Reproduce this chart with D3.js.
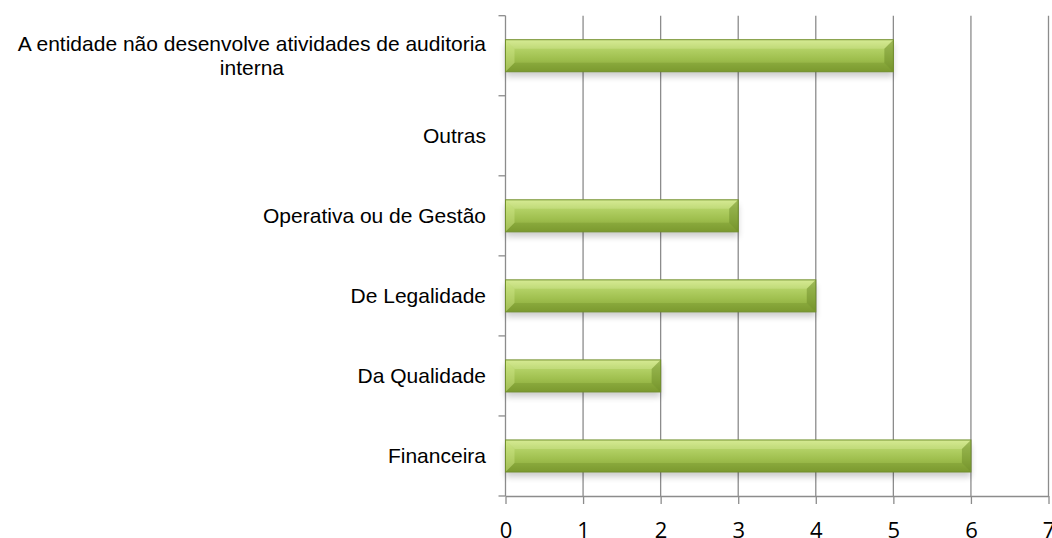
<!DOCTYPE html>
<html>
<head>
<meta charset="utf-8">
<script src="https://cdn.jsdelivr.net/npm/d3@7"></script>
<style>
  html, body { margin: 0; padding: 0; background: #ffffff; }
  svg { display: block; }
  .cat { font-family: Arial, "Liberation Sans", Helvetica, sans-serif; }
</style>
</head>
<body>
<svg id="chart" width="1052" height="538"></svg>
<script>
const categories = [
  ["A entidade não desenvolve atividades de auditoria", "interna"],
  ["Outras"],
  ["Operativa ou de Gestão"],
  ["De Legalidade"],
  ["Da Qualidade"],
  ["Financeira"]
];
const values = [5, 0, 3, 4, 2, 6];
const xTicks = [0, 1, 2, 3, 4, 5, 6, 7];

(function () {
const svg = d3.select("#chart");
const pLeft = 505.5, pRight = 1048.5, pTop = 15.7, pBottom = 496;

const keys = categories.map(c => c.join(" "));
const x = d3.scaleLinear().domain([0, 7]).range([pLeft, pRight]);
const y = d3.scaleBand().domain(keys).range([pTop, pBottom]).padding(0);

const defs = svg.append("defs");
const grad = defs.append("linearGradient").attr("id", "barGrad")
  .attr("x1", 0).attr("y1", 0).attr("x2", 0).attr("y2", 1);
[["0%", "#cfe687"], ["25%", "#b5d368"], ["60%", "#9fbf4e"], ["100%", "#84a236"]]
  .forEach(([o, c]) => grad.append("stop").attr("offset", o).attr("stop-color", c));
const blur = defs.append("filter").attr("id", "shadow")
  .attr("x", "-10%").attr("y", "-50%").attr("width", "120%").attr("height", "200%");
blur.append("feGaussianBlur").attr("stdDeviation", 3);

// gridlines
svg.append("g").selectAll("line").data(xTicks.filter(d => d > 0)).join("line")
  .attr("x1", d => x(d)).attr("x2", d => x(d))
  .attr("y1", pTop).attr("y2", pBottom)
  .attr("stroke", "#8c8c8c").attr("stroke-width", 1.3);

// x axis
const xAxis = svg.append("g").attr("transform", `translate(0,${pBottom})`)
  .call(d3.axisBottom(x).tickValues(xTicks).tickFormat(d3.format("d"))
    .tickSize(8).tickSizeOuter(0).tickPadding(18));
xAxis.select(".domain").attr("stroke", "#8c8c8c").attr("stroke-width", 1.3);
xAxis.selectAll(".tick line").attr("stroke", "#8c8c8c").attr("stroke-width", 1.3);
xAxis.selectAll(".tick text").attr("font-family", "'Open Sans', sans-serif")
  .attr("font-size", 22).attr("fill", "#000");

// y axis line and boundary ticks
const bounds = d3.range(categories.length + 1).map(i => pTop + i * y.step());
svg.append("line").attr("x1", pLeft).attr("x2", pLeft).attr("y1", pTop).attr("y2", pBottom)
  .attr("stroke", "#8c8c8c").attr("stroke-width", 1.3);
svg.append("g").selectAll("line").data(bounds).join("line")
  .attr("x1", pLeft - 7).attr("x2", pLeft).attr("y1", d => d).attr("y2", d => d)
  .attr("stroke", "#8c8c8c").attr("stroke-width", 1.3);

// bars
const bh = y.bandwidth() * 0.4;
const bev = 9;
const bars = svg.append("g").selectAll("g").data(values.map((v, i) => ({v, k: keys[i]})))
  .join("g").filter(d => d.v > 0);
const by = d => y(d.k) + (y.bandwidth() - bh) / 2;
bars.append("rect")
  .attr("x", x(0)).attr("y", d => by(d) + 5)
  .attr("width", d => x(d.v) - x(0)).attr("height", bh)
  .attr("fill", "#000").attr("opacity", 0.2).attr("filter", "url(#shadow)");
bars.append("rect")
  .attr("x", x(0)).attr("y", by)
  .attr("width", d => x(d.v) - x(0)).attr("height", bh)
  .attr("fill", "url(#barGrad)");
// bevel frame: top light, bottom dark, left light, right dark
bars.append("path").attr("d", d => {
  const x0 = x(0), x1 = x(d.v), y0 = by(d);
  return `M${x0},${y0}L${x1},${y0}L${x1 - bev},${y0 + bev}L${x0 + bev},${y0 + bev}Z`;
}).attr("fill", "#eaf7b8").attr("opacity", 0.25);
bars.append("path").attr("d", d => {
  const x0 = x(0), x1 = x(d.v), y1 = by(d) + bh;
  return `M${x0},${y1}L${x1},${y1}L${x1 - bev},${y1 - bev}L${x0 + bev},${y1 - bev}Z`;
}).attr("fill", "#5a7a18").attr("opacity", 0.22);
bars.append("path").attr("d", d => {
  const x0 = x(0), y0 = by(d), y1 = y0 + bh;
  return `M${x0},${y0}L${x0 + bev},${y0 + bev}L${x0 + bev},${y1 - bev}L${x0},${y1}Z`;
}).attr("fill", "#d9ef95").attr("opacity", 0.35);
bars.append("path").attr("d", d => {
  const x1 = x(d.v), y0 = by(d), y1 = y0 + bh;
  return `M${x1},${y0}L${x1 - bev},${y0 + bev}L${x1 - bev},${y1 - bev}L${x1},${y1}Z`;
}).attr("fill", "#5e7d1d").attr("opacity", 0.4);
bars.append("rect")
  .attr("x", x(0)).attr("y", by)
  .attr("width", d => x(d.v) - x(0)).attr("height", bh)
  .attr("fill", "none").attr("stroke", "#718f2c").attr("stroke-width", 1);

// category labels
const labelX = 486;
categories.forEach((lines, i) => {
  const cy = y(keys[i]) + y.bandwidth() / 2;
  const g = svg.append("g");
  const lh = 24;
  const startY = cy - (lines.length - 1) * lh / 2;
  const texts = lines.map((t, j) => g.append("text").attr("class", "cat")
    .attr("y", startY + j * lh).attr("dy", "0.35em")
    .attr("font-size", 21).attr("fill", "#000").text(t));
  const w = d3.max(texts, t => t.node().getComputedTextLength());
  texts.forEach(t => t.attr("x", labelX - w / 2).attr("text-anchor", "middle"));
});
})();
</script>
</body>
</html>
